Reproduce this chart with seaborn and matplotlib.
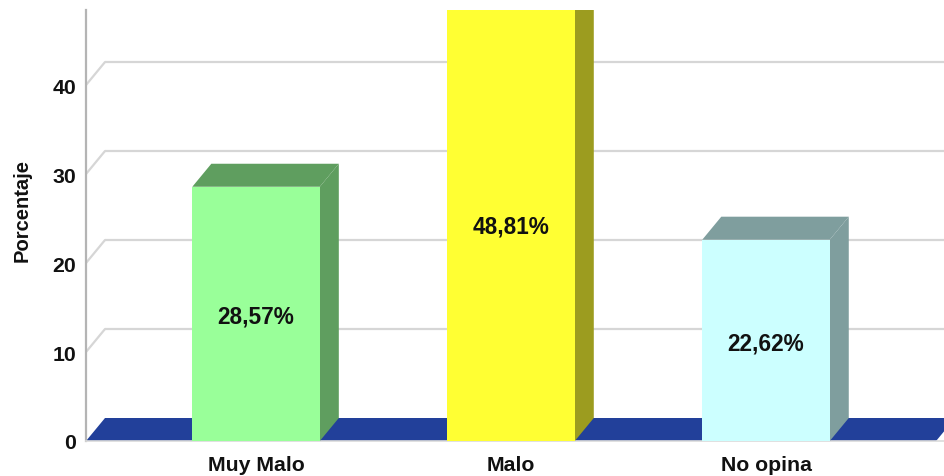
import matplotlib
matplotlib.use("Agg")
import matplotlib.pyplot as plt
from matplotlib.patches import Polygon
import seaborn as sns

# Data
categories = ["Muy Malo", "Malo", "No opina"]
percentages = [28.57, 48.81, 22.62]
y_ticks = [0, 10, 20, 30, 40]

# Colours: front face and shaded side/top faces
front_colors = ["#99FF99", "#FFFF33", "#CCFFFF"]
shade_colors = ["#5F9E5F", "#9C9C1F", "#7F9E9E"]
floor_color = "#22409A"
grid_color = "#D6D6D6"

sns.set_theme(style="white")
plt.rcParams["font.family"] = ["Liberation Sans", "DejaVu Sans"]

W, H = 944, 477
fig = plt.figure(figsize=(W / 100, H / 100), dpi=100)
# axes box in pixels: left 86, right 944, baseline 442, top 11
ax = fig.add_axes([86 / W, 35 / H, (W - 86) / W, (442 - 11) / H])

sns.barplot(x=categories, y=percentages, hue=categories, palette=front_colors,
            legend=False, width=0.5, saturation=1, ax=ax, zorder=4,
            linewidth=0)

x_left, x_right = -0.667, 2.698
y_top = 48.43
ax.set_xlim(x_left, x_right)
ax.set_ylim(0, y_top)

# depth of the pseudo-3D projection, in data units
ddx, ddy = 19 / 255, 23 / 8.9

# back wall grid lines with their short diagonal connectors
for k in y_ticks[1:]:
    ax.plot([x_left + ddx, x_right + 1], [k + ddy, k + ddy], color=grid_color,
            lw=1.6, zorder=1, solid_capstyle="butt")
    ax.plot([x_left, x_left + ddx], [k, k + ddy], color=grid_color,
            lw=1.6, zorder=1)

# floor slab
floor_right = 2.667
ax.add_patch(Polygon([(x_left, 0), (floor_right, 0),
                      (floor_right + ddx, ddy), (x_left + ddx, ddy)],
                     closed=True, facecolor=floor_color, edgecolor="none",
                     zorder=2))

# side and top faces for each bar
for patch, shade, val in zip(ax.patches[:len(categories)], shade_colors, percentages):
    x0 = patch.get_x()
    x1 = x0 + patch.get_width()
    h = patch.get_height()
    side = Polygon([(x1, 0), (x1 + ddx, ddy), (x1 + ddx, h + ddy), (x1, h)],
                   closed=True, facecolor=shade, edgecolor="none", zorder=3)
    top = Polygon([(x0, h), (x1, h), (x1 + ddx, h + ddy), (x0 + ddx, h + ddy)],
                  closed=True, facecolor=shade, edgecolor="none", zorder=3)
    ax.add_patch(side)
    ax.add_patch(top)
    ax.text((x0 + x1) / 2, h / 2, f"{val:.2f}".replace(".", ",") + "%",
            ha="center", va="center_baseline", fontsize=16.3,
            fontweight="bold", color="#111111", zorder=6)

# axes styling
for s in ["top", "right"]:
    ax.spines[s].set_visible(False)
ax.spines["left"].set_color("#B4B4B4")
ax.spines["left"].set_linewidth(1.6)
ax.spines["bottom"].set_color("#DADADA")
ax.spines["bottom"].set_linewidth(1.2)
ax.set_yticks(y_ticks)
ax.set_yticklabels([str(t) for t in y_ticks])
ax.tick_params(axis="both", length=0, labelsize=15.3, colors="#111111")
ax.tick_params(axis="y", pad=7)
ax.tick_params(axis="x", pad=10)
for lbl in ax.get_xticklabels() + ax.get_yticklabels():
    lbl.set_fontweight("bold")
ax.set_xlabel("")
ax.set_ylabel("Porcentaje", fontsize=14.5, fontweight="bold", color="#111111")
# y label: right edge at pixel x=32, centred at pixel y=211
ax.yaxis.set_label_coords((32 - 86) / (W - 86), (442 - 211) / (442 - 11))
ax.grid(False)
ax.set_facecolor("white")

fig.savefig("out.png", dpi=100)
